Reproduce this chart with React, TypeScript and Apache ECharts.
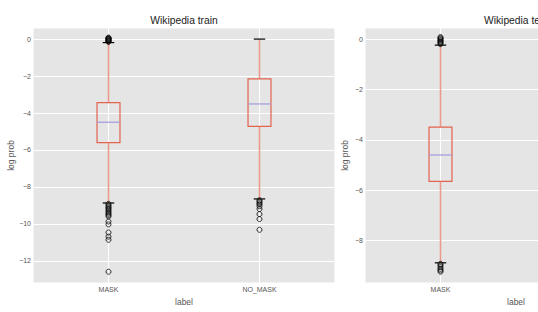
import React, { useEffect, useRef } from 'react';
import * as echarts from 'echarts';

const categories = ['MASK', 'NO_MASK'];

// Each box: [lower whisker, Q1, median, Q3, upper whisker]
const trainMaskBox = [-8.87, -5.6, -4.5, -3.44, -0.19];
const trainNoMaskBox = [-8.65, -4.72, -3.51, -2.15, 0.0];
const testMaskBox = [-8.88, -5.65, -4.6, -3.49, -0.24];

const trainMaskOutliers = [
  0.08, 0.05, 0.02, 0.0, -0.03, -0.06, -0.09, -0.12, -0.15,
  -8.92, -9.0, -9.08, -9.15, -9.22, -9.3, -9.38, -9.45, -9.52, -9.6,
  -9.87, -10.03, -10.47, -10.69, -10.86, -12.59,
];
const trainNoMaskOutliers = [
  -8.72, -8.8, -8.88, -8.95, -9.05, -9.2, -9.47, -9.74, -10.32,
];
const testMaskOutliers = [
  0.08, 0.04, 0.0, -0.04, -0.08, -0.12, -0.16, -0.2,
  -8.92, -8.98, -9.05, -9.12, -9.18, -9.23,
];

const titles = ['Wikipedia train', 'Wikipedia test'];
const yName = 'log prob';
const xName = 'label';

const FONT = '"Liberation Sans", Arial, Helvetica, sans-serif';
const BOX_COLOR = '#E2634E';
const WHISKER_COLOR = '#EC9A8D';
const MEDIAN_COLOR = '#A79FDD';

const fmtMinus = (v: number) => String(v).replace('-', '\u2212');

const renderBox = (params: any, api: any) => {
  const idx = api.value(0);
  const lo = api.value(1);
  const q1 = api.value(2);
  const med = api.value(3);
  const q3 = api.value(4);
  const hi = api.value(5);
  const band = api.size([1, 0])[0];
  const bw = band * 0.152;
  const cw = bw / 2;
  const pLo = api.coord([idx, lo]);
  const cx = pLo[0];
  const yLo = pLo[1];
  const yQ1 = api.coord([idx, q1])[1];
  const yMed = api.coord([idx, med])[1];
  const yQ3 = api.coord([idx, q3])[1];
  const yHi = api.coord([idx, hi])[1];
  return {
    type: 'group',
    children: [
      { type: 'line', shape: { x1: cx, y1: yQ3, x2: cx, y2: yHi }, style: { stroke: WHISKER_COLOR, lineWidth: 1.6 } },
      { type: 'line', shape: { x1: cx, y1: yQ1, x2: cx, y2: yLo }, style: { stroke: WHISKER_COLOR, lineWidth: 1.6 } },
      { type: 'rect', shape: { x: cx - bw / 2, y: yQ3, width: bw, height: yQ1 - yQ3 }, style: { fill: 'none', stroke: BOX_COLOR, lineWidth: 1.2 } },
      { type: 'line', shape: { x1: cx - bw / 2, y1: yMed, x2: cx + bw / 2, y2: yMed }, style: { stroke: MEDIAN_COLOR, lineWidth: 1.3 } },
      { type: 'line', shape: { x1: cx - cw / 2, y1: yHi, x2: cx + cw / 2, y2: yHi }, style: { stroke: '#000', lineWidth: 1.2 } },
      { type: 'line', shape: { x1: cx - cw / 2, y1: yLo, x2: cx + cw / 2, y2: yLo }, style: { stroke: '#000', lineWidth: 1.2 } },
    ],
  };
};

const App: React.FC = () => {
  const ref = useRef<HTMLDivElement>(null);

  useEffect(() => {
    if (!ref.current) return;
    const chart = echarts.init(ref.current, undefined, { renderer: 'svg' });

    const gridCommon = {
      top: 28,
      width: 302,
      height: 255,
      show: true,
      backgroundColor: '#E5E5E5',
      borderColor: '#FFFFFF',
      borderWidth: 1,
      containLabel: false,
    };

    const xAxisCommon = {
      type: 'category' as const,
      data: categories,
      boundaryGap: true,
      axisLine: { show: false },
      axisTick: { show: false },
      splitLine: { show: true, alignWithLabel: true, lineStyle: { color: '#FFFFFF', width: 1 } },
      name: xName,
      nameLocation: 'middle' as const,
      nameGap: 13,
      nameTextStyle: { color: '#555555', fontSize: 8.5, fontFamily: FONT },
    };

    const yAxisCommon = {
      type: 'value' as const,
      axisLine: { show: false },
      axisTick: { show: false },
      splitLine: { show: true, showMinLine: false, showMaxLine: false, lineStyle: { color: '#FFFFFF', width: 1 } },
      axisLabel: {
        color: '#555555',
        fontSize: 7,
        fontFamily: FONT,
        margin: 2,
        showMinLabel: false,
        showMaxLabel: false,
        formatter: fmtMinus,
      },
      name: yName,
      nameLocation: 'middle' as const,
      nameGap: 16,
      nameTextStyle: { color: '#555555', fontSize: 8.5, fontFamily: FONT },
    };

    const outlierStyle = {
      color: 'rgba(0,0,0,0)',
      borderColor: '#000000',
      borderWidth: 1,
    };

    chart.setOption({
      animation: false,
      backgroundColor: '#FFFFFF',
      grid: [
        { ...gridCommon, left: 33 },
        { ...gridCommon, left: 365 },
      ],
      xAxis: [
        { ...xAxisCommon, gridIndex: 0, axisLabel: { color: '#555555', fontSize: 7, fontFamily: FONT, margin: 3 } },
        {
          ...xAxisCommon,
          gridIndex: 1,
          axisLabel: {
            color: '#555555',
            fontSize: 7,
            fontFamily: FONT,
            margin: 3,
            interval: (i: number) => i === 0,
          },
        },
      ],
      yAxis: [
        { ...yAxisCommon, gridIndex: 0, min: -13.2, max: 0.6, splitNumber: 7 },
        { ...yAxisCommon, gridIndex: 1, min: -9.68, max: 0.44, splitNumber: 5 },
      ],
      graphic: [
        {
          type: 'text',
          x: 184,
          y: 20,
          style: {
            text: titles[0],
            fill: '#222222',
            font: `10.3px ${FONT}`,
            textAlign: 'center',
            textVerticalAlign: 'middle',
            align: 'center',
            verticalAlign: 'middle',
          },
        },
        {
          type: 'text',
          x: 516,
          y: 20,
          style: {
            text: titles[1],
            fill: '#222222',
            font: `10.3px ${FONT}`,
            textAlign: 'center',
            textVerticalAlign: 'middle',
            align: 'center',
            verticalAlign: 'middle',
          },
        },
      ],
      series: [
        {
          type: 'custom',
          xAxisIndex: 0,
          yAxisIndex: 0,
          renderItem: renderBox,
          encode: { x: 0, y: [1, 2, 3, 4, 5] },
          data: [
            [0, ...trainMaskBox],
            [1, ...trainNoMaskBox],
          ],
          z: 3,
        },
        {
          type: 'custom',
          xAxisIndex: 1,
          yAxisIndex: 1,
          renderItem: renderBox,
          encode: { x: 0, y: [1, 2, 3, 4, 5] },
          data: [[0, ...testMaskBox]],
          z: 3,
        },
        {
          type: 'scatter',
          xAxisIndex: 0,
          yAxisIndex: 0,
          symbol: 'circle',
          symbolSize: 5,
          itemStyle: outlierStyle,
          data: [
            ...trainMaskOutliers.map((v) => [0, v]),
            ...trainNoMaskOutliers.map((v) => [1, v]),
          ],
          z: 4,
        },
        {
          type: 'scatter',
          xAxisIndex: 1,
          yAxisIndex: 1,
          symbol: 'circle',
          symbolSize: 5,
          itemStyle: outlierStyle,
          data: testMaskOutliers.map((v) => [0, v]),
          z: 4,
        },
      ],
    });

    return () => {
      chart.dispose();
    };
  }, []);

  return (
    <div
      style={{
        position: 'fixed',
        left: 0,
        top: 0,
        width: 538,
        height: 312,
        overflow: 'hidden',
        background: '#FFFFFF',
      }}
    >
      <div ref={ref} style={{ width: 700, height: 312 }} />
    </div>
  );
};

export default App;
